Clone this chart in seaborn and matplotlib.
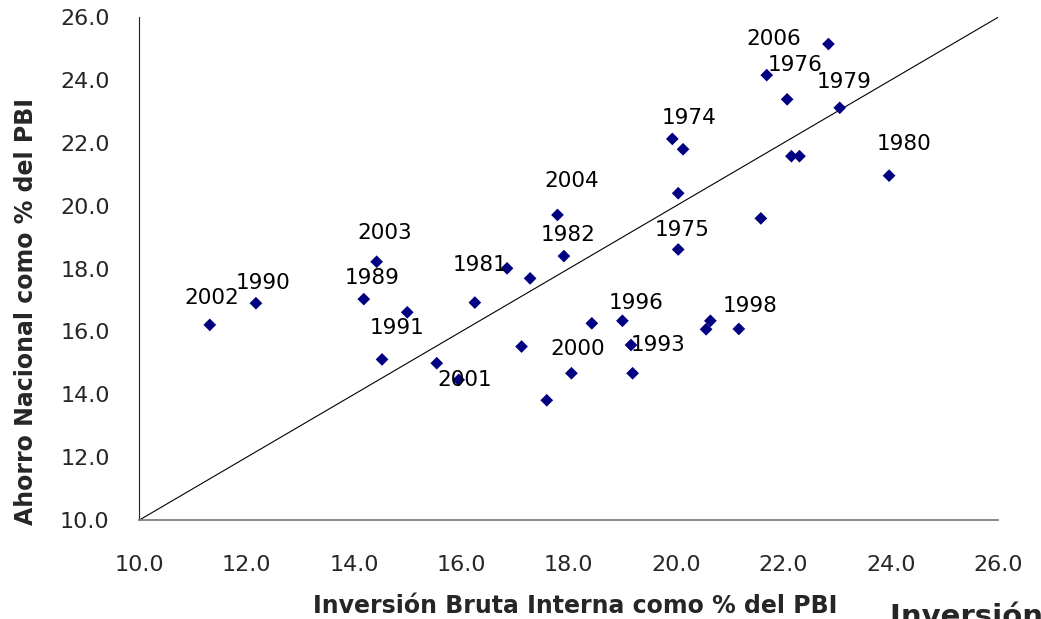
import matplotlib
matplotlib.use("Agg")
import matplotlib.pyplot as plt
import seaborn as sns
import pandas as pd

# Inversion bruta interna vs ahorro nacional (% del PBI)
inversion = [11.31, 12.17, 14.18, 14.42, 14.99, 14.52, 15.54, 15.95, 16.25, 16.85,
             17.12, 17.28, 17.59, 17.79, 17.91, 18.05, 18.43, 19.00, 19.16, 19.19,
             19.93, 20.04, 20.04, 20.13, 20.56, 20.64, 21.17, 21.58, 21.69, 22.07,
             22.15, 22.30, 22.84, 23.05, 23.97]
ahorro = [16.21, 16.90, 17.03, 18.22, 16.61, 15.11, 14.99, 14.46, 16.92, 18.01,
          15.52, 17.69, 13.81, 19.71, 18.40, 14.67, 16.26, 16.34, 15.57, 14.67,
          22.13, 20.40, 18.61, 21.80, 16.07, 16.34, 16.08, 19.60, 24.16, 23.39,
          21.58, 21.58, 25.15, 23.12, 20.96]
etiquetas = ["2002", "1990", "1989", "2003", "", "1991", "", "2001", "", "1981",
             "", "", "", "2004", "1982", "2000", "", "1996", "1993", "",
             "1974", "", "1975", "", "", "", "1998", "", "1976", "",
             "", "", "2006", "1979", "1980"]
ticks = [10, 12, 14, 16, 18, 20, 22, 24, 26]

# where each year label sits relative to its point (pixels)
desplaz = {"2002": (2, 27), "1990": (7, 20), "1989": (8, 21), "2003": (8, 29),
           "1991": (15, 31), "2001": (6, 0), "1981": (-27, 3), "2004": (14, 34),
           "1982": (4, 21), "2000": (6, 24), "1996": (14, 18), "1993": (27, 0),
           "1974": (17, 21), "1975": (4, 19), "1998": (11, 23), "1976": (28, 10),
           "2006": (-55, 5), "1979": (4, 26), "1980": (15, 32)}

df = pd.DataFrame({"inv": inversion, "aho": ahorro, "anio": etiquetas})

sns.set_style("white")
plt.rcParams["font.family"] = ["DejaVu Sans"]

fig = plt.figure(figsize=(10.41, 6.19), dpi=100)
ax = fig.add_axes([0.134, 0.16, 0.8247, 0.812])

# 45 degree line
ax.plot([ticks[0], ticks[-1]], [ticks[0], ticks[-1]], color="black", lw=0.8, zorder=1)

sns.scatterplot(data=df, x="inv", y="aho", marker="D", s=42, color="#000080",
                edgecolor="none", ax=ax, zorder=3)

for _, r in df.iterrows():
    if r["anio"]:
        dx, dy = desplaz[r["anio"]]
        ax.annotate(r["anio"], (r["inv"], r["aho"]), xytext=(dx, dy),
                    textcoords="offset pixels", ha="center", va="center",
                    fontsize=15.5, color="black", zorder=4)

ax.set_xlim(ticks[0], ticks[-1])
ax.set_ylim(ticks[0], ticks[-1])
ax.set_xticks(ticks)
ax.set_yticks(ticks)
ax.set_xticklabels([f"{t:.1f}" for t in ticks])
ax.set_yticklabels([f"{t:.1f}" for t in ticks])
ax.tick_params(axis="both", labelsize=16, length=6.5, width=1, direction="out")
ax.tick_params(axis="x", pad=19, color="#555555")
ax.tick_params(axis="y", pad=15, color="#222222")

for s in ["top", "right"]:
    ax.spines[s].set_visible(False)
ax.spines["left"].set_color("#222222")
ax.spines["bottom"].set_color("#808080")
ax.spines["bottom"].set_linewidth(1.3)

ax.set_xlabel("Inversión Bruta Interna como % del PBI", fontsize=17, fontweight="bold")
ax.set_ylabel("Ahorro Nacional como % del PBI", fontsize=17, fontweight="bold")
ax.xaxis.set_label_coords(0.507, -0.147)
ax.yaxis.set_label_coords(-0.118, 0.414)

# leftover title, cut off at the bottom edge
fig.text(890 / 1041, 1 - 603 / 619, "Inversión Bruta Interna", fontsize=21,
         fontweight="bold", ha="left", va="top")

fig.savefig("out.png", dpi=100)
